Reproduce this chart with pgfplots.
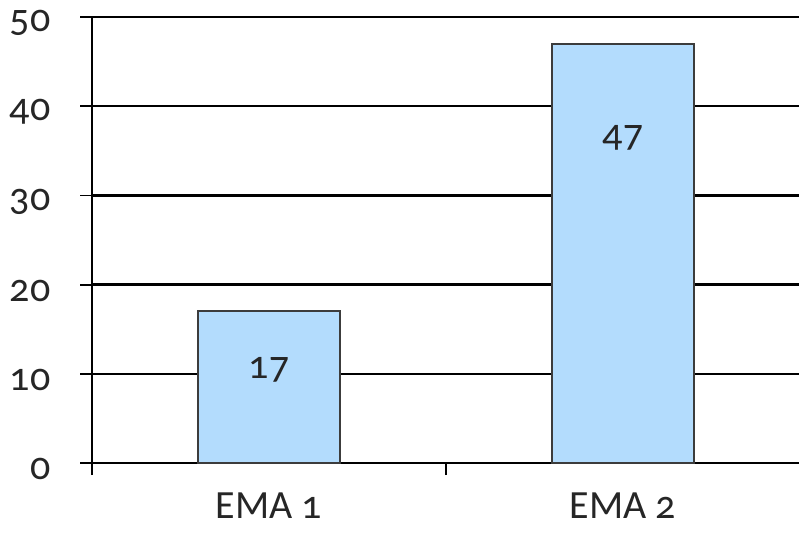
\documentclass[border=0pt]{standalone}
\usepackage{pgfplots}
\pgfplotsset{compat=1.18}
\usepackage{fontspec}
\setmainfont{Carlito}[Numbers=OldStyle]
\definecolor{barfill}{RGB}{179,220,253}
\definecolor{baredge}{RGB}{60,60,60}
\begin{document}
\begin{tikzpicture}
\useasboundingbox (-92pt,-73pt) rectangle (707pt,463pt);
\begin{axis}[
  at={(0pt,0pt)}, anchor=south west,
  scale only axis,
  width=708pt, height=446pt,
  xmin=-0.5, xmax=1.5,
  ymin=0, ymax=50,
  ytick={0,10,20,30,40,50},
  xtick={-0.5,0.5,1.5},
  xticklabels={},
  extra x ticks={0,1},
  extra x tick labels={EMA 1,EMA 2},
  extra x tick style={major tick length=0pt, grid=none},
  axis x line*=bottom,
  axis y line*=left,
  axis line style={black, line width=2.6pt},
  ymajorgrids,
  grid style={black, line width=2.6pt},
  tick align=outside,
  major tick length=12pt,
  tick style={black, line width=1.8pt},
  /pgf/number format/assume math mode=true,
  yticklabel style={font=\fontsize{40}{44}\selectfont, xshift=-26pt, yshift=-6pt, text=black!85},
  xticklabel style={font=\fontsize{40}{44}\selectfont, yshift=-29pt, inner sep=1pt, text=black!85},
  clip=false,
]
\addplot[ybar, bar width=142pt, fill=barfill, draw=baredge, line width=1.8pt]
  coordinates {(0,17) (1,47)};
\addplot[draw=none, mark=none, only marks,
  nodes near coords, point meta=explicit symbolic,
  every node near coord/.style={font=\fontsize{40}{44}\selectfont, anchor=center, text=black!85}]
  coordinates {(0,10.4) [17] (1,36.5) [47]};
\end{axis}
\end{tikzpicture}
\end{document}
